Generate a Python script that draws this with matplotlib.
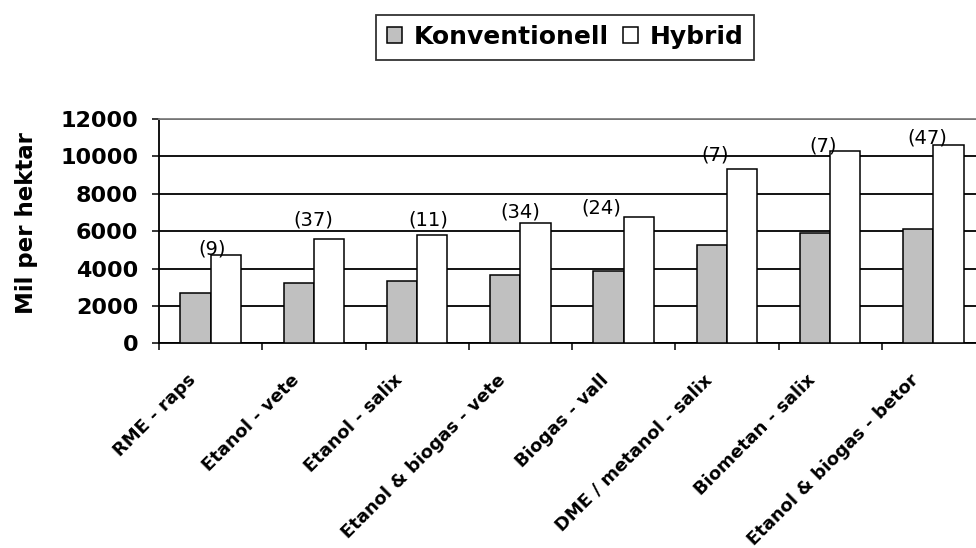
import numpy as np
import matplotlib.pyplot as plt
from matplotlib.transforms import ScaledTranslation

# Data
categories = ["RME - raps", "Etanol - vete", "Etanol - salix", "Etanol & biogas - vete",
              "Biogas - vall", "DME / metanol - salix", "Biometan - salix",
              "Etanol & biogas - betor"]
konventionell = [2700, 3200, 3350, 3650, 3850, 5250, 5900, 6100]
hybrid = [4700, 5600, 5800, 6450, 6750, 9300, 10300, 10600]
labels = ["(9)", "(37)", "(11)", "(34)", "(24)", "(7)", "(7)", "(47)"]

# label offsets from bar top / category centre (pixels)
lab_dx = [1.6, -1, 11.3, 0, -22.6, -11.6, -6.8, -5.8]
lab_dy = [6.7, 18.7, 14.7, 10.3, 9.5, 14, 4.9, 6.7]

fig = plt.figure(figsize=(9.76, 5.48), dpi=100)
ax = fig.add_axes([159/976, 1 - 343.3/548, 826/976, 224.3/548])

x = np.arange(len(categories))
w = 0.292
ax.bar(x - w/2, konventionell, w, color="#C0C0C0", edgecolor="black", linewidth=1.1,
       label="Konventionell", zorder=3)
ax.bar(x + w/2, hybrid, w, color="white", edgecolor="black", linewidth=1.1,
       label="Hybrid", zorder=3)

for i, t in enumerate(labels):
    ax.annotate(t, (x[i], hybrid[i]), xytext=(lab_dx[i]*0.72, lab_dy[i]*0.72),
                textcoords="offset points", ha="center", va="center", fontsize=14,
                zorder=4)

ax.set_xlim(-0.5, len(categories) - 0.5)
ax.set_ylim(0, 12000)
ax.set_yticks(np.arange(0, 12001, 2000))
ax.yaxis.grid(True, color="black", linewidth=1.3, zorder=0)
ax.set_axisbelow(True)

ax.spines["top"].set_color("#808080")
ax.spines["top"].set_linewidth(1.3)
ax.spines["right"].set_visible(False)
ax.spines["left"].set_linewidth(1.3)
ax.spines["bottom"].set_linewidth(1.3)

ax.tick_params(axis="y", direction="out", length=5, width=1.1, pad=10, labelsize=16)
for lab in ax.get_yticklabels():
    lab.set_fontweight("bold")

# ticks at category boundaries, labels at centres
ax.set_xticks(np.arange(-0.5, len(categories), 1.0))
ax.set_xticklabels([])
ax.tick_params(axis="x", which="major", direction="out", length=5, width=1.1)
ax.set_xticks(x, minor=True)
ax.set_xticklabels(categories, minor=True, rotation=45, ha="right", va="top",
                   rotation_mode="anchor", fontsize=13, fontweight="bold")
ax.tick_params(axis="x", which="minor", length=0, pad=20)
for lab in ax.get_xticklabels(minor=True):
    lab.set_transform(lab.get_transform() + ScaledTranslation(-24/100, 0, fig.dpi_scale_trans))

fig.text(27/976, 1 - 223/548, "Mil per hektar", rotation=90, ha="center", va="center",
         fontsize=16.5, fontweight="bold")

leg = fig.legend(loc="center", bbox_to_anchor=(565/976, 1 - 37/548), ncol=2,
                 frameon=True, fancybox=False, edgecolor="black",
                 prop={"size": 18, "weight": "bold"}, handlelength=0.62,
                 handleheight=0.62, handletextpad=0.45, columnspacing=0.55,
                 borderpad=0.42, borderaxespad=0)
leg.get_frame().set_linewidth(1.3)

fig.savefig("out.png", dpi=100)
